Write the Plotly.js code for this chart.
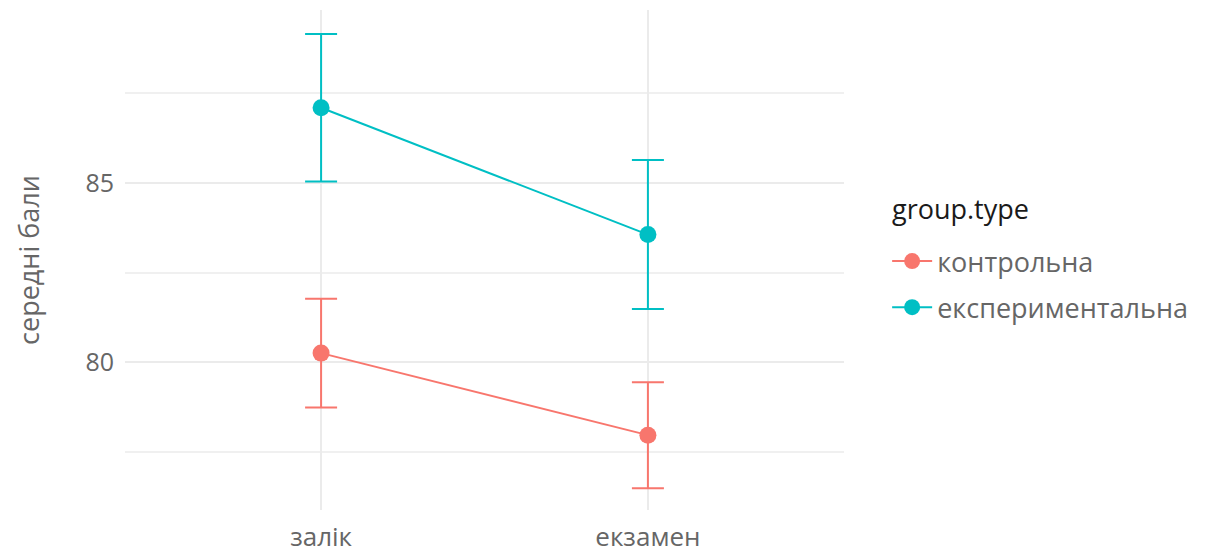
<!DOCTYPE html>
<html>
<head>
<meta charset="utf-8">
<script src="https://cdn.plot.ly/plotly-3.0.1.min.js"></script>
<style>html,body{margin:0;padding:0;background:#fff;}#chart{width:1224px;height:556px;}</style>
</head>
<body>
<div id="chart"></div>
<script>
// Mean scores with error margins, by assessment and group type
const categories = ['залік', 'екзамен'];
const groupNames = ['контрольна', 'експериментальна'];
const legendTitle = 'group.type';
const controlMeans = [80.25, 77.96];
const controlErr = [1.52, 1.48];
const experimentalMeans = [87.1, 83.56];
const experimentalErr = [2.06, 2.08];
const groupColors = ['#F8766D', '#00BFC4'];

function series(name, y, err, color) {
  return {
    type: 'scatter',
    mode: 'lines+markers',
    name: name,
    legendgroup: name,
    x: categories,
    y: y,
    line: {color: color, width: 2},
    marker: {color: color, size: 17},
    error_y: {type: 'data', array: err, visible: true, color: color, thickness: 2, width: 16}
  };
}

const data = [
  series(groupNames[0], controlMeans, controlErr, groupColors[0]),
  series(groupNames[1], experimentalMeans, experimentalErr, groupColors[1])
];

const font = '"Open Sans", "Noto Sans", sans-serif';
const layout = {
  width: 1224, height: 556,
  margin: {l: 125, r: 380, t: 10, b: 46},
  paper_bgcolor: '#fff', plot_bgcolor: '#fff',
  font: {family: font, color: '#4d4d4d'},
  showlegend: true,
  legend: {
    x: 1.06, xanchor: 'left', y: 0.546, yanchor: 'top',
    font: {size: 27, color: '#666'},
    itemwidth: 40, tracegroupgap: 8
  },
  // legend heading, placed above the legend entries
  annotations: [{
    text: legendTitle, xref: 'paper', yref: 'paper',
    x: 1.064, xanchor: 'left', y: 0.603, yanchor: 'middle',
    showarrow: false, font: {size: 27, color: '#1a1a1a', family: font}
  }],
  xaxis: {
    type: 'category', range: [-0.6, 1.6],
    showgrid: true, gridcolor: '#ebebeb', gridwidth: 2,
    zeroline: false, showline: false, ticks: '',
    tickfont: {size: 26, color: '#666'}, ticklabelstandoff: 9
  },
  yaxis: {
    range: [75.87, 89.83],
    tickvals: [80, 85], ticktext: ['80', '85'],
    showgrid: true, gridcolor: '#ebebeb', gridwidth: 2,
    minor: {tickvals: [77.5, 82.5, 87.5], showgrid: true, gridcolor: '#f0f0f0', gridwidth: 2},
    zeroline: false, showline: false, ticks: '',
    tickfont: {size: 25, color: '#666'}, ticklabelstandoff: 10,
    title: {text: 'середні бали', font: {size: 27, color: '#666'}, standoff: 37}
  }
};

Plotly.newPlot('chart', data, layout, {displayModeBar: false, staticPlot: true});
</script>
</body>
</html>
